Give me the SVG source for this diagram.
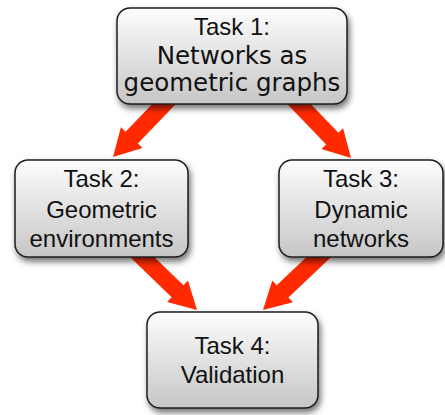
<svg xmlns="http://www.w3.org/2000/svg" width="445" height="415" viewBox="0 0 445 415">
  <style>
    .box { fill: url(#boxGrad); stroke: #1c1c1c; stroke-width: 1.5; filter: url(#shadow); }
    .t { font-family: "Liberation Sans", Arial, sans-serif; font-size: 24px; fill: #111; text-anchor: middle; }
    .v { font-family: "DejaVu Sans", Verdana, sans-serif; font-size: 24.5px; fill: #111; text-anchor: middle; }
    .arrow { fill: #ff2a00; }
  </style>
  <defs>
    <linearGradient id="boxGrad" x1="0" y1="0" x2="0" y2="1">
      <stop offset="0" stop-color="#fdfdfd"/>
      <stop offset="1" stop-color="#c6c6c6"/>
    </linearGradient>
    <filter id="shadow" x="-10%" y="-10%" width="125%" height="130%">
      <feDropShadow dx="2" dy="4" stdDeviation="3" flood-color="#000" flood-opacity="0.55"/>
    </filter>
  </defs>

  <g id="connectors">
    <polygon class="arrow" points="0,0 -27,-15 -27,-8.5 -95,-8.5 -95,8.5 -27,8.5 -27,15" transform="translate(113,157) rotate(133.9)"/>
    <polygon class="arrow" points="0,0 -27,-15 -27,-8.5 -95,-8.5 -95,8.5 -27,8.5 -27,15" transform="translate(351,158) rotate(46.1)"/>
    <polygon class="arrow" points="0,0 -27,-15 -27,-8.5 -95,-8.5 -95,8.5 -27,8.5 -27,15" transform="translate(197,310) rotate(44)"/>
    <polygon class="arrow" points="0,0 -27,-15 -27,-8.5 -95,-8.5 -95,8.5 -27,8.5 -27,15" transform="translate(263,310) rotate(136.5)"/>
  </g>

  <g id="task1">
    <rect class="box" x="117" y="8" width="230" height="96" rx="13"/>
    <text class="t" x="232" y="35">Task 1:</text>
    <text class="v" x="232" y="64">Networks as</text>
    <text class="v" x="232" y="91">geometric graphs</text>
  </g>

  <g id="task2">
    <rect class="box" x="15" y="160" width="173" height="97" rx="13"/>
    <text class="t" x="101.5" y="187">Task 2:</text>
    <text class="t" x="101.5" y="218">Geometric</text>
    <text class="t" x="101.5" y="247">environments</text>
  </g>

  <g id="task3">
    <rect class="box" x="279" y="160" width="164" height="97" rx="13"/>
    <text class="t" x="361" y="187">Task 3:</text>
    <text class="t" x="361" y="218">Dynamic</text>
    <text class="t" x="361" y="247">networks</text>
  </g>

  <g id="task4">
    <rect class="box" x="147" y="312" width="171" height="96" rx="13"/>
    <text class="t" x="232.5" y="354">Task 4:</text>
    <text class="t" x="232.5" y="383">Validation</text>
  </g>
</svg>
